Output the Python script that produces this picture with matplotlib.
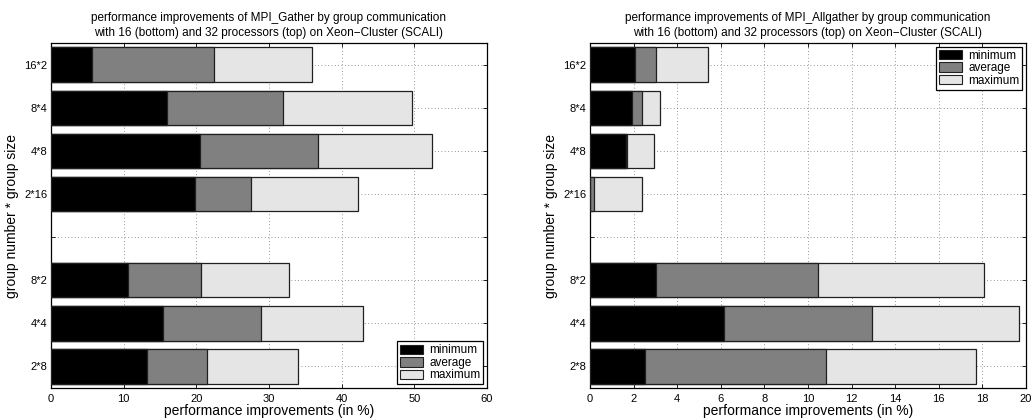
import matplotlib
matplotlib.use("Agg")
import matplotlib.pyplot as plt
from matplotlib.patches import Patch

plt.rcParams['font.family'] = ['Liberation Sans', 'DejaVu Sans']

# y positions 1..8, position 4 is an empty separator between the two processor counts
tick_labels = ['2*8', '4*4', '8*2', '', '2*16', '4*8', '8*4', '16*2']
bar_pos = [1, 2, 3, 5, 6, 7, 8]

# MPI_Gather (order: 2*8, 4*4, 8*2, 2*16, 4*8, 8*4, 16*2)
gather_min = [13.2, 15.4, 10.6, 19.8, 20.5, 16.0, 5.6]
gather_avg = [21.4, 28.9, 20.6, 27.5, 36.75, 31.9, 22.45]
gather_max = [34.05, 42.9, 32.8, 42.3, 52.4, 49.7, 35.9]

# MPI_Allgather
allgather_min = [2.52, 6.15, 3.03, 0.0, 1.65, 1.93, 2.05]
allgather_avg = [10.85, 12.95, 10.45, 0.2, 1.71, 2.4, 3.05]
allgather_max = [17.72, 19.68, 18.09, 2.37, 2.95, 3.21, 5.43]

colors = {'minimum': 'black', 'average': '#808080', 'maximum': '#e5e5e5'}

fig = plt.figure(figsize=(10.33, 4.18), dpi=100)
ax1 = fig.add_axes([0.0494, 0.0718, 0.422, 0.825])
ax2 = fig.add_axes([0.5711, 0.0718, 0.422, 0.825])


def draw(ax, mins, avgs, maxs, title, xmax, xticks, legend_loc):
    for vals, key in ((maxs, 'maximum'), (avgs, 'average'), (mins, 'minimum')):
        ax.barh(bar_pos, vals, height=0.8, color=colors[key],
                edgecolor='#202020', linewidth=0.9, zorder=3)
    ax.set_xlim(0, xmax)
    ax.set_ylim(0.5, 8.5)
    ax.set_xticks(xticks)
    ax.set_yticks(range(1, 9))
    ax.set_yticklabels(tick_labels)
    ax.tick_params(direction='in', top=True, right=True, labelsize=8,
                   length=3, width=0.6)
    ax.tick_params(axis='y', pad=2.5)
    ax.tick_params(axis='x', pad=4.5)
    ax.grid(True, linestyle=(0, (1, 3)), color='0.45', linewidth=0.6, zorder=0)
    for s in ax.spines.values():
        s.set_linewidth(0.9)
    ax.set_title(title, fontsize=8.5, linespacing=1.3, pad=5)
    ax.set_xlabel('performance improvements (in %)', fontsize=10, labelpad=0)
    ax.set_ylabel('group number * group size', fontsize=10, labelpad=4)
    handles = [Patch(facecolor=colors[k], edgecolor='#202020', linewidth=0.8)
               for k in ('minimum', 'average', 'maximum')]
    leg = ax.legend(handles, ['minimum', 'average', 'maximum'], loc=legend_loc,
                    fontsize=8.5, fancybox=False, framealpha=1, edgecolor='black',
                    borderpad=0.25, labelspacing=0.05, handlelength=2.0,
                    handleheight=0.85, handletextpad=0.5, borderaxespad=0.3)
    leg.get_frame().set_linewidth(0.9)
    leg.set_zorder(5)


draw(ax1, gather_min, gather_avg, gather_max,
     'performance improvements of MPI_Gather by group communication\n'
     'with 16 (bottom) and 32 processors (top) on Xeon\u2212Cluster (SCALI)',
     60, range(0, 61, 10), 'lower right')
draw(ax2, allgather_min, allgather_avg, allgather_max,
     'performance improvements of MPI_Allgather by group communication\n'
     'with 16 (bottom) and 32 processors (top) on Xeon\u2212Cluster (SCALI)',
     20, range(0, 21, 2), 'upper right')

fig.savefig('out.png', dpi=100)
